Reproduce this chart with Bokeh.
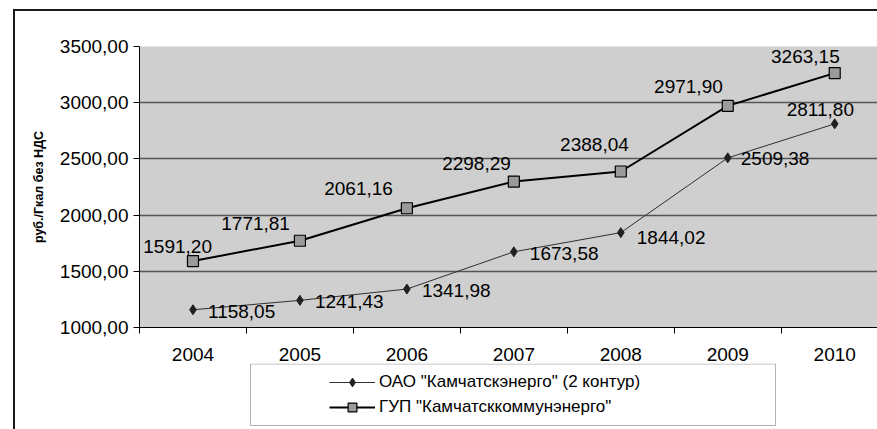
from bokeh.plotting import figure
from bokeh.layouts import column
from bokeh.models import (ColumnDataSource, Range1d, FixedTicker, Legend, LegendItem,
                          BoxAnnotation)
from bokeh.core.properties import value
from bokeh.embed import file_html
from bokeh.resources import INLINE

# ---- data ----
years = ["2004", "2005", "2006", "2007", "2008", "2009", "2010"]
oao = [1158.05, 1241.43, 1341.98, 1673.58, 1844.02, 2509.38, 2811.80]
gup = [1591.20, 1771.81, 2061.16, 2298.29, 2388.04, 2971.90, 3263.15]
y_ticks = [1000, 1500, 2000, 2500, 3000, 3500]
series_names = ['ОАО "Камчатскэнерго" (2 контур)', 'ГУП "Камчатсккоммунэнерго"']
y_title = "руб./Гкал без НДС"


def fmt(v):
    return f"{v:.2f}".replace(".", ",")


FONT = "Liberation Sans"
idx = list(range(len(years)))

# data-label offsets in screen px (y positive = down)
oao_dx = [15, 15, 15, 16, 16, 13, -48]
oao_dy = [2, 1, 1, 2, 5, 1, -14]
gup_dx = [19, -10, -14, -3, 8, -5, 5]
gup_dy = [-15, -17, -20, -18, -27, -19, -17]

src_oao = ColumnDataSource(dict(x=idx, y=oao, lab=[fmt(v) for v in oao], dx=oao_dx, dy=oao_dy))
src_gup = ColumnDataSource(dict(x=idx, y=gup, lab=[fmt(v) for v in gup], dx=gup_dx, dy=gup_dy))

xr = Range1d(-0.5, 6.4)

# ---------------- main chart ----------------
p = figure(width=862, height=330, x_range=xr, y_range=Range1d(1000, 3500),
           output_backend="svg", toolbar_location=None,
           min_border_left=124, min_border_right=0, min_border_top=35, min_border_bottom=14)

p.background_fill_color = "#cfcfcf"
p.border_fill_color = "white"
p.outline_line_color = None

p.xaxis.ticker = FixedTicker(ticks=idx, minor_ticks=[i - 0.5 for i in range(len(years) + 1)])
p.xaxis.major_label_overrides = {i: "" for i in idx}
p.xaxis.major_label_text_font_size = "1px"
p.xaxis.major_label_standoff = 0
p.xaxis.major_tick_out = 0
p.xaxis.major_tick_in = 0
p.xaxis.minor_tick_out = 6
p.xaxis.minor_tick_in = 0
p.xaxis.minor_tick_line_color = "black"
p.xaxis.axis_line_color = "black"
p.xgrid.visible = False

p.yaxis.ticker = FixedTicker(ticks=y_ticks, minor_ticks=[])
p.yaxis.major_label_overrides = {t: fmt(t) for t in y_ticks}
p.yaxis.major_tick_out = 6
p.yaxis.major_tick_in = 0
p.yaxis.major_tick_line_color = "black"
p.yaxis.axis_line_color = "black"
p.yaxis.major_label_standoff = 5
p.yaxis.major_label_text_font = FONT
p.yaxis.major_label_text_font_size = "19px"
p.yaxis.major_label_text_color = "black"
p.yaxis.axis_label = y_title
p.yaxis.axis_label_text_font = FONT
p.yaxis.axis_label_text_font_style = "bold"
p.yaxis.axis_label_text_font_size = "12.5px"
p.yaxis.axis_label_text_color = "black"
p.yaxis.axis_label_standoff = 11
p.ygrid.grid_line_color = "#555555"
p.ygrid.grid_line_width = 1.3

l1 = p.line("x", "y", source=src_oao, line_color="#303030", line_width=1)
m1 = p.scatter("x", "y", source=src_oao, marker="diamond", size=10,
               fill_color="#202020", line_color="#202020")
l2 = p.line("x", "y", source=src_gup, line_color="black", line_width=2)
m2 = p.scatter("x", "y", source=src_gup, marker="square", size=11,
               fill_color="#9a9a9a", line_color="black", line_width=1.2)

p.text("x", "y", text="lab", source=src_oao, x_offset="dx", y_offset="dy",
       text_align="left", text_baseline="middle", text_font=value(FONT),
       text_font_size="19px", text_color="black")
p.text("x", "y", text="lab", source=src_gup, x_offset="dx", y_offset="dy",
       text_align="right", text_baseline="middle", text_font=value(FONT),
       text_font_size="19px", text_color="black")

# ---------------- category labels + legend ----------------
q = figure(width=862, height=88, x_range=xr, y_range=Range1d(0, 1),
           x_axis_location="above", y_axis_location=None,
           output_backend="svg", toolbar_location=None,
           min_border_left=124, min_border_right=0, min_border_top=22, min_border_bottom=0)
q.background_fill_color = "white"
q.border_fill_color = "white"
q.outline_line_color = None
q.grid.visible = False
q.xaxis.ticker = FixedTicker(ticks=idx, minor_ticks=[])
q.xaxis.major_label_overrides = {i: years[i] for i in idx}
q.xaxis.axis_line_color = None
q.xaxis.major_tick_line_color = None
q.xaxis.major_tick_out = 0
q.xaxis.major_tick_in = 0
q.xaxis.major_label_standoff = 3
q.xaxis.major_label_text_font = FONT
q.xaxis.major_label_text_font_size = "19px"
q.xaxis.major_label_text_color = "black"

q.add_layout(BoxAnnotation(left=235, right=760, top=22.5, bottom=84,
                           left_units="canvas", right_units="canvas",
                           top_units="canvas", bottom_units="canvas",
                           fill_color="white", fill_alpha=1, line_color="black", line_width=1))

# legend glyph renderers (their points lie outside this panel's range, so only the legend shows them)
ql1 = q.line("x", "y", source=src_oao, line_color="#303030", line_width=1)
qm1 = q.scatter("x", "y", source=src_oao, marker="diamond", size=10,
                fill_color="#202020", line_color="#202020")
ql2 = q.line("x", "y", source=src_gup, line_color="black", line_width=2)
qm2 = q.scatter("x", "y", source=src_gup, marker="square", size=11, fill_color="#9a9a9a",
                line_color="black", line_width=1.2)

legend = Legend(items=[LegendItem(label=series_names[0], renderers=[ql1, qm1]),
                       LegendItem(label=series_names[1], renderers=[ql2, qm2])],
                location=(190, 11))
legend.border_line_color = None
legend.background_fill_alpha = 0
legend.padding = 4
legend.spacing = 3
legend.label_height = 22
legend.glyph_height = 22
legend.glyph_width = 46
legend.label_standoff = 4
legend.label_text_font = FONT
legend.label_text_font_size = "17px"
legend.label_text_color = "black"
q.add_layout(legend)

layout = column(p, q, spacing=0,
                styles={"border-left": "2px solid #1a1a1a", "border-top": "2px solid #1a1a1a",
                        "margin-left": "13px", "margin-top": "9px"})

open("out.html", "w").write(file_html(layout, INLINE))
